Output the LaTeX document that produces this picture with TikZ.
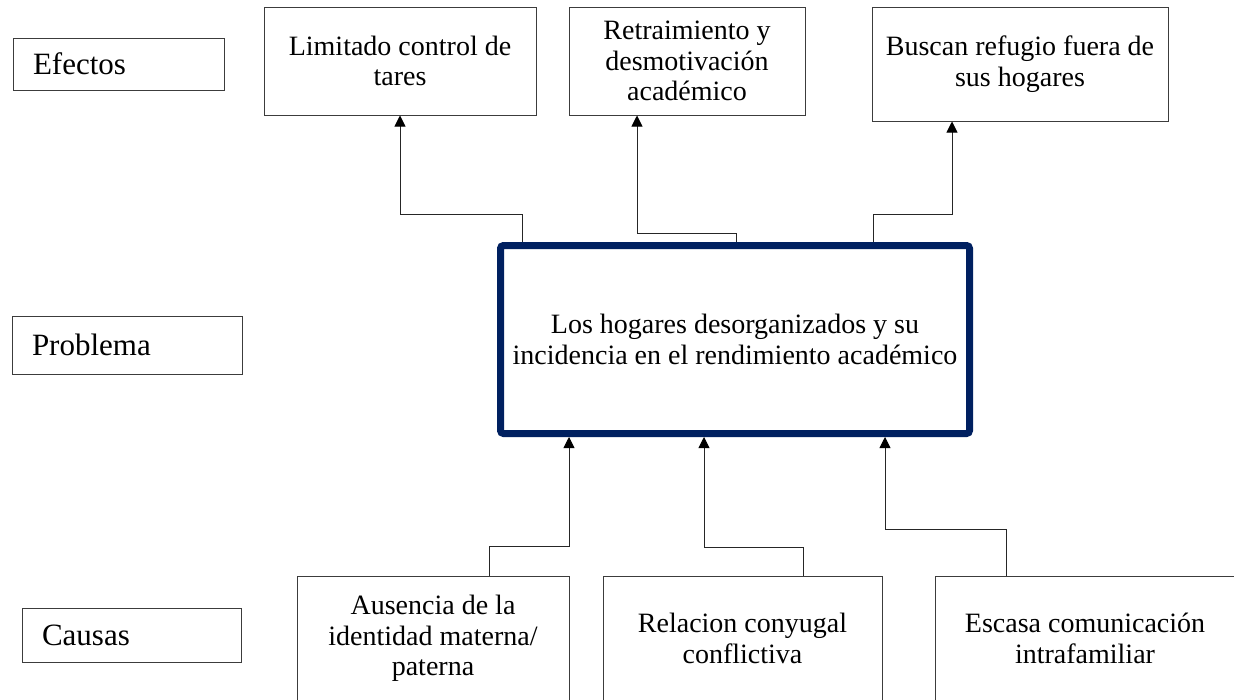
\documentclass[tikz,border=0pt]{standalone}
\usepackage{fontspec}
\setmainfont{Liberation Serif}
\usetikzlibrary{arrows.meta}
\definecolor{navyblue}{RGB}{0,32,96}
\definecolor{edgegray}{RGB}{60,60,60}
\begin{document}
\begin{tikzpicture}[x=1pt,y=-1pt,
  boxfont/.style={font=\fontsize{28}{30.5}\selectfont},
  tagbox/.style={draw=edgegray, line width=1pt, align=left, inner xsep=20pt, inner ysep=0pt,
                 font=\fontsize{31}{34}\selectfont},
  effbox/.style={draw=edgegray, line width=1pt, align=center, inner sep=0pt, boxfont},
  probbox/.style={draw=navyblue, line width=7pt, rounded corners=3pt, align=center, inner sep=0pt,
                  minimum width=469pt, minimum height=188pt, boxfont},
  conn/.style={draw=black!85, line width=0.9pt},
  arr/.style={conn, -{Triangle[length=11pt,width=11pt,color=black]}}]
\useasboundingbox (0,0) rectangle (1234,699);
\fill[white] (0,0) rectangle (1234,699);

% side labels
\node[tagbox, text width=171pt, minimum height=52pt] (tagE) at (118.5,64) {Efectos};
\node[tagbox, text width=190pt, minimum height=58pt] (tagP) at (127,345) {Problema};
\node[tagbox, text width=179pt, minimum height=54pt] (tagC) at (131.5,635) {Causas};

% effects
\node[effbox, minimum width=272pt, minimum height=108pt] (ef1) at (400,61) {Limitado control de\\tares};
\node[effbox, minimum width=236pt, minimum height=108pt] (ef2) at (687,61) {Retraimiento y\\desmotivación\\académico};
\node[effbox, minimum width=296pt, minimum height=114pt] (ef3) at (1020,64) {Buscan refugio fuera de\\sus hogares};

% problem
\node[probbox] (cen) at (735,339.5) {Los hogares desorganizados y su\\incidencia en el rendimiento académico};

% causes
\node[effbox, minimum width=272pt, minimum height=125pt] (ca1) at (433,638.5) {Ausencia de la\\identidad materna/\\paterna};
\node[effbox, minimum width=279pt, minimum height=125pt] (ca2) at (742.5,638.5) {Relacion conyugal\\conflictiva};
\node[effbox, minimum width=300pt, minimum height=125pt] (ca3) at (1085,638.5) {Escasa comunicación\\intrafamiliar};

% connectors to effects
\draw[arr] (cen.north -| 522,0) -- (522,214) -- (400,214) -- (ef1.south);
\draw[arr] (cen.north -| 736,0) -- (736,233) -- (637,233) -- (ef2.south -| 637,0);
\draw[arr] (cen.north -| 873,0) -- (873,214) -- (952,214) -- (ef3.south -| 952,0);

% connectors from causes
\draw[arr] (ca1.north -| 489,0) -- (489,546) -- (569,546) -- (cen.south -| 569,0);
\draw[arr] (ca2.north -| 803,0) -- (803,547) -- (704,547) -- (cen.south -| 704,0);
\draw[arr] (ca3.north -| 1006,0) -- (1006,529) -- (885,529) -- (cen.south -| 885,0);
\end{tikzpicture}
\end{document}
